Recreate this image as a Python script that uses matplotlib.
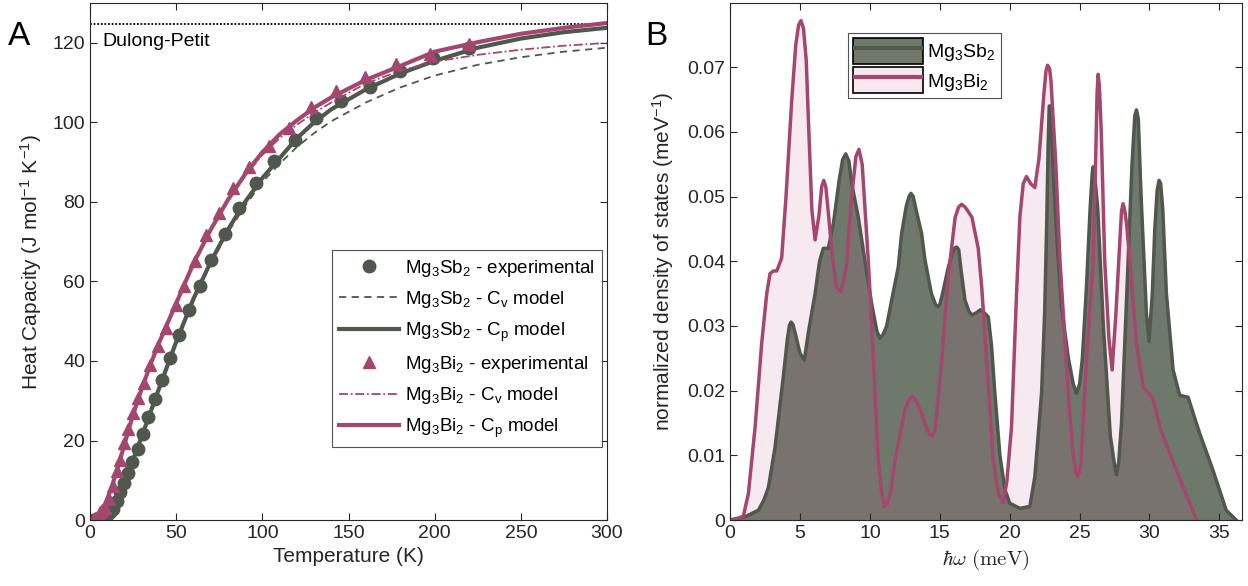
import numpy as np
import matplotlib
matplotlib.use("Agg")
import matplotlib.pyplot as plt
from matplotlib.patches import Patch
from matplotlib.lines import Line2D

plt.rcParams['font.family'] = ['Liberation Sans', 'DejaVu Sans']
plt.rcParams['mathtext.fontset'] = 'custom'
plt.rcParams['mathtext.rm'] = 'Liberation Sans'
plt.rcParams['mathtext.it'] = 'Liberation Sans:italic'

SB = '#50574d'
BI = '#a4476f'
AXC = '#262626'

# ---- panel A: heat capacity ----
T_model = [0, 2, 4, 6, 8, 10, 12, 15, 20, 25, 30, 35, 40, 50, 60, 70, 80, 90,
           100, 110, 120, 130, 140, 160, 180, 200, 225, 250, 275, 300]
sb_cp = [0, 0.02, 0.1, 0.3, 0.7, 1.4, 2.3, 4.2, 9.6, 15.2, 21, 27, 33, 44.8,
         55.6, 64.9, 73, 80, 86, 91, 96, 100, 103.3, 108.3, 112.3, 115.5,
         118.8, 121.1, 122.7, 123.8]
sb_cv = [0, 0.02, 0.1, 0.3, 0.7, 1.4, 2.3, 4.2, 9.6, 15.2, 21, 27, 33, 44.6,
         55.3, 64.4, 72.3, 79, 85, 89.6, 93.8, 97.3, 100.3, 105, 108.8, 111.8,
         114.5, 116.4, 117.8, 118.8]
bi_cp = [0, 0.15, 0.7, 1.8, 3.3, 5.3, 7.6, 11.5, 19, 26.5, 33, 39, 44.5, 54.5,
         64.5, 73, 80.5, 87, 92.5, 97, 100.5, 103.7, 106.3, 110.7, 114.2, 117.8,
         120.2, 122.3, 123.8, 125]
bi_cv = [0, 0.15, 0.7, 1.8, 3.3, 5.3, 7.6, 11.5, 19, 26.5, 33, 39, 44.5, 54.5,
         64.4, 72.8, 80.2, 86.5, 91.8, 96, 99.4, 102.4, 105, 109.8, 113,
         115.3, 117, 118.3, 119.3, 120]

T_sb = [2, 3, 4, 5, 6, 7, 8.5, 10, 11.5, 13.1, 15.4, 17.2, 19.5, 21.8, 24.6,
        27.6, 30.8, 33.8, 37.9, 41.8, 46.4, 51.7, 57.4, 63.6, 70.5, 78.1, 86.6,
        96.5, 106.8, 118.8, 131.4, 145.7, 162.5, 179.7, 199.2, 220]
cp_sb = [0.02, 0.05, 0.1, 0.2, 0.35, 0.5, 0.8, 1.3, 2.0, 2.7, 4.8, 7.1, 9.4,
         11.9, 14.6, 17.9, 21.7, 25.9, 30.5, 35.3, 40.8, 46.6, 52.7, 58.9, 65.4,
         71.9, 78.4, 84.7, 90.3, 95.7, 101, 105.4, 109, 112.9, 116.1, 118.6]
T_bi = [1.8, 2.5, 3.2, 4, 5, 6, 7, 8.5, 10.8, 13.1, 15.4, 17.7, 20, 22.3, 25,
        28, 31.5, 34.9, 39.5, 44.1, 49.9, 54.5, 60.9, 67.6, 75.1, 83.2, 92.4,
        103.9, 115.3, 128.4, 142.9, 159.5, 177.4, 197.4, 219.9]
cp_bi = [0.1, 0.25, 0.5, 0.8, 1.3, 1.9, 2.4, 3.0, 5.2, 8.5, 12.3, 15.2, 19.4,
         22.8, 26.9, 30.7, 34.5, 39.1, 43.7, 48.3, 54.1, 58.9, 65.2, 71.7, 77.2,
         83.4, 88.9, 94.1, 98.7, 103.8, 108, 111.5, 114.6, 117.3, 119.8]
dulong_petit = 124.7

# ---- panel B: phonon DOS ----
E_sb = [0, 1.07, 2.02, 2.4, 2.74, 3.22, 3.81, 4.1, 4.25, 4.36, 4.5, 4.7, 5.0,
        5.31, 5.6, 6.08, 6.4, 6.67, 7.03, 7.4, 7.8, 8.05, 8.27, 8.5, 8.7, 9.17,
        9.65, 10.13, 10.5, 10.72, 10.95, 11.2, 11.56, 12.03, 12.27, 12.6,
        12.8, 12.94, 13.1, 13.3, 13.7, 13.94, 14.4, 14.7, 14.84, 15.0, 15.2,
        15.6, 15.9, 16.05, 16.2, 16.35, 16.5, 16.8, 17.1, 17.3, 17.6, 17.9,
        18.2, 18.47, 18.7, 18.94, 19.3, 19.66, 20.0, 20.73, 21.44, 21.8, 22.28,
        22.5, 22.65, 22.75, 22.83, 22.92, 23.05, 23.3, 23.7, 24.2, 24.55,
        24.78, 25.0, 25.2, 25.49, 25.75, 25.9, 25.97, 26.05, 26.3, 26.7, 27.2,
        27.5, 27.64, 27.8, 28.0, 28.47, 28.75, 28.95, 29.07, 29.2, 29.4, 29.78,
        29.97, 30.2, 30.38, 30.55, 30.69, 30.8, 30.95, 31.21, 31.69, 32.16,
        32.5, 32.76, 33.2, 33.59, 34.54, 35.49, 36.2]
dos_sb = [0, 0.0005, 0.0015, 0.003, 0.005, 0.0113, 0.0222, 0.028, 0.0301,
          0.0306, 0.0302, 0.0285, 0.0258, 0.0247, 0.029, 0.035, 0.040, 0.042,
          0.042, 0.046, 0.0525, 0.0557, 0.0566, 0.0555, 0.052, 0.0468, 0.040,
          0.0334, 0.0292, 0.0281, 0.0287, 0.030, 0.034, 0.0391, 0.0443, 0.0485,
          0.0500, 0.0505, 0.0500, 0.048, 0.0443, 0.0402, 0.035, 0.0333, 0.033,
          0.0333, 0.035, 0.039, 0.0413, 0.042, 0.0422, 0.0418, 0.039, 0.034,
          0.0322, 0.0317, 0.032, 0.0325, 0.032, 0.0314, 0.027, 0.0196, 0.010,
          0.0047, 0.0026, 0.0018, 0.0021, 0.0067, 0.0196, 0.032, 0.0460, 0.0580,
          0.0640, 0.0640, 0.0570, 0.046, 0.033, 0.025, 0.021, 0.0196, 0.021,
          0.025, 0.036, 0.048, 0.0535, 0.0546, 0.0540, 0.048, 0.030, 0.013,
          0.0085, 0.007, 0.009, 0.015, 0.040, 0.055, 0.0625, 0.0634, 0.062,
          0.050, 0.032, 0.0276, 0.035, 0.045, 0.0510, 0.0525, 0.0520, 0.048,
          0.035, 0.0232, 0.0193, 0.0191, 0.019, 0.016, 0.0134, 0.0077, 0.0015,
          0.0]
E_bi = [0, 0.5, 0.95, 1.31, 1.79, 2.26, 2.62, 2.86, 3.1, 3.34, 3.69, 4.0, 4.41,
        4.7, 4.9, 5.07, 5.25, 5.45, 5.6, 5.85, 6.08, 6.35, 6.55, 6.7, 6.85,
        7.05, 7.3, 7.6, 7.93, 8.3, 8.7, 9.0, 9.22, 9.45, 9.89, 10.25, 10.6,
        10.85, 11.03, 11.25, 11.5, 11.8, 12.5, 12.8, 13.03, 13.3, 13.7, 14.0,
        14.3, 14.46, 14.65, 14.8, 15.13, 15.6, 16.1, 16.35, 16.56, 16.8, 17.0,
        17.3, 17.75, 18.0, 18.35, 18.82, 19.2, 19.54, 19.8, 20.13, 20.49,
        20.73, 20.97, 21.2, 21.5, 21.8, 22.1, 22.45, 22.6, 22.71, 22.85, 22.95,
        23.3, 23.6, 24.19, 24.5, 24.7, 24.85, 25.0, 25.1, 25.49, 25.97, 26.15,
        26.25, 26.33, 26.42, 26.55, 26.8, 27.1, 27.33, 27.6, 27.9, 28.0, 28.11,
        28.22, 28.35, 28.6, 29.07, 29.55, 30.0, 30.27, 30.8, 31.46, 32.4, 33.0,
        33.36]
dos_bi = [0, 0.0002, 0.0006, 0.0041, 0.0144, 0.0273, 0.035, 0.0381, 0.0385,
          0.0385, 0.0405, 0.05, 0.0649, 0.0735, 0.0765, 0.0772, 0.0760, 0.0710,
          0.062, 0.048, 0.0433, 0.047, 0.0515, 0.0525, 0.0515, 0.047, 0.041,
          0.036, 0.0353, 0.039, 0.050, 0.0562, 0.0573, 0.055, 0.040, 0.025,
          0.0093, 0.0042, 0.0021, 0.0025, 0.0045, 0.0093, 0.017, 0.0186,
          0.0191, 0.0185, 0.0165, 0.0145, 0.0132, 0.013, 0.0138, 0.017, 0.0247,
          0.0376, 0.0468, 0.0484, 0.0488, 0.0484, 0.0478, 0.0468, 0.042, 0.036,
          0.0247, 0.0093, 0.004, 0.0027, 0.006, 0.0144, 0.035, 0.0469, 0.052,
          0.0531, 0.052, 0.0514, 0.056, 0.066, 0.0695, 0.0703, 0.0698, 0.068,
          0.055, 0.040, 0.0196, 0.011, 0.0078, 0.0067, 0.0075, 0.009, 0.0247,
          0.040, 0.056, 0.0660, 0.0689, 0.0670, 0.060, 0.040, 0.028, 0.0232,
          0.032, 0.044, 0.0478, 0.0489, 0.0480, 0.046, 0.040, 0.0273, 0.0206,
          0.0195, 0.0185, 0.014, 0.0103, 0.0051, 0.002, 0.0]

fig = plt.figure(figsize=(12.48, 5.86), dpi=100)
axA = fig.add_axes([0.0721, 0.1126, 0.4143, 0.882])
axB = fig.add_axes([0.585, 0.1126, 0.410, 0.882])

for ax in (axA, axB):
    for s in ax.spines.values():
        s.set_color(AXC)
        s.set_linewidth(0.8)
    ax.tick_params(direction='in', top=True, right=True, length=5,
                   width=0.8, color=AXC, labelcolor=AXC, labelsize=14)

# panel A
axA.axhline(dulong_petit, color='black', ls=(0, (1, 1)), lw=1.3)
axA.text(7, 122.5, 'Dulong-Petit', fontsize=14, va='top', ha='left', color='black')
axA.plot(T_sb, cp_sb, 'o', color=SB, ms=9, mec=SB)
axA.plot(T_model, sb_cv, '--', color=SB, lw=1.3, dashes=(4, 3))
axA.plot(T_model, sb_cp, '-', color=SB, lw=3)
axA.plot(T_bi, cp_bi, '^', color=BI, ms=9, mec=BI)
axA.plot(T_model, bi_cv, '-.', color=BI, lw=1.3, dashes=(5, 1.5, 1, 1.5))
axA.plot(T_model, bi_cp, '-', color=BI, lw=3)
axA.set_xlim(0, 300)
axA.set_ylim(0, 130)
axA.set_xticks(range(0, 301, 50))
axA.set_yticks(range(0, 121, 20))
axA.set_xlabel('Temperature (K)', fontsize=15, color=AXC)
axA.set_ylabel('Heat Capacity (J mol$^{-1}$ K$^{-1}$)', fontsize=15, color=AXC,
               labelpad=6)

handlesA = [
    Line2D([], [], ls='none', marker='o', color=SB, ms=9),
    Line2D([], [], ls='--', color=SB, lw=1.3, dashes=(4, 3)),
    Line2D([], [], ls='-', color=SB, lw=3),
    Line2D([], [], ls='none', marker='^', color=BI, ms=9),
    Line2D([], [], ls='-.', color=BI, lw=1.3, dashes=(5, 1.5, 1, 1.5)),
    Line2D([], [], ls='-', color=BI, lw=3),
]
labelsA = [r'Mg$_3$Sb$_2$ - experimental', r'Mg$_3$Sb$_2$ - C$_\mathrm{v}$ model',
           r'Mg$_3$Sb$_2$ - C$_\mathrm{p}$ model', r'Mg$_3$Bi$_2$ - experimental',
           r'Mg$_3$Bi$_2$ - C$_\mathrm{v}$ model', r'Mg$_3$Bi$_2$ - C$_\mathrm{p}$ model']
legA = axA.legend(handlesA, labelsA, loc='lower right', bbox_to_anchor=(0.99, 0.141),
                  borderaxespad=0, fontsize=13.5, frameon=True, fancybox=False,
                  edgecolor=AXC, handlelength=3.2, handletextpad=0.3,
                  labelspacing=0.55, borderpad=0.4)
legA.get_frame().set_linewidth(0.8)

# panel B
axB.fill_between(E_sb, dos_sb, 0, color='#6f796b', lw=0)
axB.fill_between(E_bi, dos_bi, 0, color='#c04a8a', alpha=0.12, lw=0)
axB.plot(E_sb, dos_sb, color=SB, lw=2.5)
axB.plot(E_bi, dos_bi, color=BI, lw=2.5)
axB.set_xlim(0, 36.6)
axB.set_ylim(0, 0.0799)
axB.set_xticks(range(0, 36, 5))
axB.set_yticks([0, 0.01, 0.02, 0.03, 0.04, 0.05, 0.06, 0.07])
axB.set_yticklabels(['0', '0.01', '0.02', '0.03', '0.04', '0.05', '0.06', '0.07'])
axB.set_xlabel(r'$\hbar\omega\ \mathrm{(meV)}$', fontsize=15, color=AXC,
               math_fontfamily='cm')
axB.set_ylabel('normalized density of states (meV$^{-1}$)', fontsize=15,
               color=AXC, labelpad=8)

handlesB = [
    (Patch(facecolor='#6f796b', edgecolor='black', lw=1.2),
     Line2D([], [], color=SB, lw=3, solid_capstyle='butt')),
    (Patch(facecolor='#f6e8ef', edgecolor='black', lw=1.2),
     Line2D([], [], color=BI, lw=3, solid_capstyle='butt')),
]
legB = axB.legend(handlesB, ['Mg$_3$Sb$_2$', 'Mg$_3$Bi$_2$'], loc='upper left',
                  bbox_to_anchor=(0.23, 0.942), borderaxespad=0, fontsize=14,
                  frameon=True, fancybox=False, edgecolor=AXC, handlelength=3.6,
                  handleheight=1.7, handletextpad=0.25, labelspacing=0.15,
                  borderpad=0.25)
legB.get_frame().set_linewidth(0.8)

fig.text(0.006, 0.965, 'A', fontsize=24, ha='left', va='top')
fig.text(0.517, 0.965, 'B', fontsize=24, ha='left', va='top')

fig.savefig('out.png', dpi=100)
